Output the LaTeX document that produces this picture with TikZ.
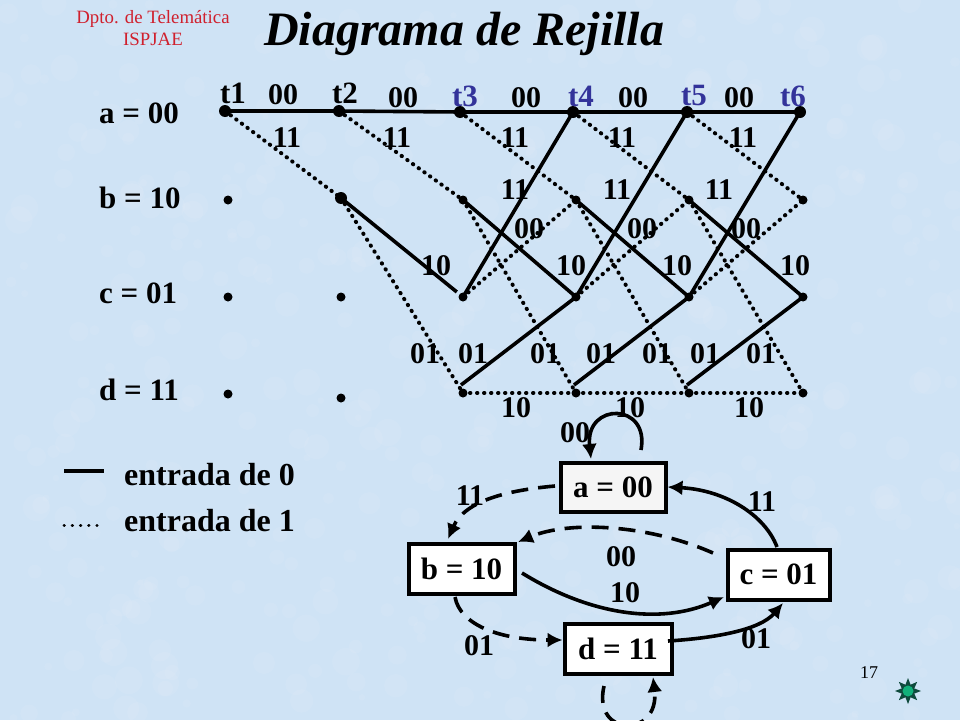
\documentclass[tikz,border=0pt]{standalone}
\usepackage{fontspec}
\setmainfont{Liberation Serif}
\usepackage{tikz}
\usetikzlibrary{arrows.meta, positioning, calc}
\definecolor{paper}{HTML}{CFE3F5}
\definecolor{tname}{HTML}{33339A}
\definecolor{dptored}{HTML}{D0202D}
\definecolor{sungreen}{HTML}{12B07A}
\definecolor{sundark}{HTML}{0E4A3C}

\begin{document}
\begin{tikzpicture}[x=1pt, y=-1pt,
    bigdot/.style={circle, fill=black, inner sep=0pt, minimum size=12pt},
    smalldot/.style={circle, fill=black, inner sep=0pt, minimum size=9pt},
    lbl/.style={font=\fontsize{30}{30}\selectfont\bfseries, inner sep=0pt, yshift=-1.5pt},
    tlbl/.style={font=\fontsize{31}{31}\selectfont\bfseries, inner sep=0pt},
    rowlbl/.style={font=\fontsize{31}{31}\selectfont\bfseries, inner sep=0pt, anchor=west},
    leglbl/.style={font=\fontsize{32}{32}\selectfont\bfseries, inner sep=0pt, anchor=west},
    solidedge/.style={line width=3.6pt},
    dotedge/.style={line width=4pt, line cap=round, dash pattern=on 0.4pt off 6.6pt},
    statebox/.style={draw=black, fill=white, line width=4pt, inner sep=0pt, font=\fontsize{31}{31}\selectfont\bfseries},
    solidarc/.style={line width=3.6pt, -{Latex[length=15pt, width=15pt]}},
    dasharc/.style={line width=3.6pt, dash pattern=on 17pt off 10pt, -{Latex[length=15pt, width=15pt]}}]
    \useasboundingbox (0,0) rectangle (960,720);
    \fill[paper] (0,0) rectangle (960,720);
    \pgfmathsetseed{17}
    \foreach \i in {1,...,500}
        \fill[white, opacity=0.07] (rnd*960,rnd*720) circle (3+rnd*11);

    % title and header
    \node[font=\fontsize{18.8}{22}\selectfont, text=dptored, align=center] (dpto) at (153,28) {Dpto. de Telemática\\ISPJAE};
    \node[font=\fontsize{48}{48}\selectfont\bfseries\itshape, inner sep=0pt] (title) at (464,34) {Diagrama de Rejilla};

    % trellis nodes
    \node[bigdot] (a1) at (225,111) {};
    \node[bigdot] (a2) at (339,111) {};
    \node[bigdot] (a3) at (460,112) {};
    \node[bigdot] (a4) at (573,112) {};
    \node[bigdot] (a5) at (687,112) {};
    \node[bigdot] (a6) at (800,112) {};
    \node[smalldot] (b1) at (228,200) {};
    \node[bigdot] (b2) at (341,198) {};
    \foreach \n/\x in {3/463,4/576,5/689,6/803}
        \node[smalldot] (b\n) at (\x,200) {};
    \foreach \n/\x in {1/228,2/341,3/463,4/576,5/689,6/803}
        \node[smalldot] (c\n) at (\x,297) {};
    \node[smalldot] (d1) at (228,394) {};
    \node[smalldot] (d2) at (341,398) {};
    \foreach \n/\x in {3/463,4/576,5/689,6/803}
        \node[smalldot] (d\n) at (\x,393) {};

    % trellis branches
    \foreach \s/\t in {a1/a2,a2/a3,a3/a4,a4/a5,a5/a6,b3/c4,b4/c5,b5/c6,c3/a4,c4/a5,c5/a6}
        \draw[solidedge] (\s.center) -- (\t.center);
    \draw[solidedge, shorten >=8pt] (b2.center) -- (c3.center);
    \foreach \s/\t in {d3/c4,d4/c5,d5/c6}
        \draw[solidedge] ($(\s.center)+(-2,-8)$) -- (\t.center);
    \foreach \s/\t in {a1/b2,a2/b3,a3/b4,a4/b5,a5/b6,b2/d3,b3/d4,b4/d5,b5/d6,c3/b4,c4/b5,c5/b6,d3/d4,d4/d5,d5/d6}
        \draw[dotedge] (\s.center) -- (\t.center);

    % trellis labels
    \foreach \n/\x/\y in {t1/233/93,t2/345/93}
        \node[tlbl] (\n) at (\x,\y) {\n};
    \foreach \n/\x/\y in {t3/465/96,t4/581/96,t5/694/96,t6/793/96}
        \node[tlbl, text=tname] (\n) at (\x,\y) {\n};
    \foreach \x/\y in {283/93,403/96,526/96,633/96,739/96,529/227,642/227,746/227}
        \node[lbl] (z\x) at (\x,\y) {00};
    \foreach \x/\y in {287/136,397/136,515/136,622/136,743/136,515/188,617/188,719/188}
        \node[lbl] (o\x\y) at (\x,\y) {11};
    \foreach \x/\y in {436/264,571/264,677/264,795/264,516/406,630/406,749/406}
        \node[lbl] (t\x) at (\x,\y) {10};
    \foreach \x in {425,473,545,601,657,705,761}
        \node[lbl] (u\x) at (\x,352) {01};

    \node[rowlbl] (rowa) at (99,113) {a = 00};
    \node[rowlbl] (rowb) at (99,198) {b = 10};
    \node[rowlbl] (rowc) at (99,293) {c = 01};
    \node[rowlbl] (rowd) at (99,390) {d = 11};

    % legend
    \coordinate (la) at (64,471);
    \coordinate (lb) at (104,471);
    \coordinate (lc) at (64,525);
    \coordinate (ld) at (98,525);
    \draw[line width=3.4pt] (la) -- (lb);
    \draw[line width=3pt, line cap=round, dash pattern=on 0.4pt off 7.8pt] (lc) -- (ld);
    \node[leglbl] (lega) at (124,475) {entrada de 0};
    \node[leglbl] (legb) at (124,521) {entrada de 1};

    % state diagram
    \node[statebox, fill=white!96!black, minimum width=105pt, minimum height=49pt] (sa) at (613,487) {a = 00};
    \node[statebox, minimum width=106pt, minimum height=50pt] (sb) at (461.5,568.5) {b = 10};
    \node[statebox, minimum width=102pt, minimum height=50pt] (sc) at (778.5,574.5) {c = 01};
    \node[statebox, minimum width=107pt, minimum height=50pt] (sd) at (618,648.5) {d = 11};

    \coordinate (aloopout) at (641,450);
    \coordinate (aloopin) at (591,459);
    \coordinate (abfrom) at (555,486);
    \coordinate (abto) at (448,539);
    \coordinate (cbfrom) at (713,553);
    \coordinate (cbto) at (518,542);
    \coordinate (cafrom) at (777,547);
    \coordinate (bcfrom) at (522,573);
    \coordinate (bcto) at (724,597);
    \coordinate (bdfrom) at (455,597);
    \coordinate (dcfrom) at (668,641);
    \coordinate (dcto) at (783,603);
    \coordinate (dloopout) at (604,686);
    \coordinate (dloopin) at (653,677);

    \draw[solidarc] (aloopout) .. controls (650,402) and (585,402) .. (aloopin);
    \draw[dasharc] (abfrom) .. controls (510,490) and (465,500) .. (abto);
    \draw[dasharc] (cbfrom) .. controls (650,525) and (570,520) .. (cbto);
    \draw[solidarc] (cafrom) .. controls (765,515) and (725,490) .. (sa.east);
    \draw[solidarc] (bcfrom) .. controls (590,615) and (660,625) .. (bcto);
    \draw[dasharc] (bdfrom) .. controls (460,625) and (500,640) .. (sd.west |- 0,640);
    \draw[solidarc] (dcfrom) .. controls (715,638) and (760,630) .. (dcto);
    \draw[dasharc] (dloopout) .. controls (592,738) and (660,738) .. (dloopin);

    \node[lbl] (s00a) at (575,431) {00};
    \node[lbl] (s11a) at (470,494) {11};
    \node[lbl] (s11b) at (762,500) {11};
    \node[lbl] (s00b) at (621,555) {00};
    \node[lbl] (s10) at (625,591) {10};
    \node[lbl] (s01a) at (479,644) {01};
    \node[lbl] (s01b) at (756,637) {01};

    % page number and sun
    \node[font=\fontsize{18}{18}\selectfont, inner sep=0pt] (page) at (869,673) {17};
    \foreach \a in {0,45,...,315}
        \fill[sundark] ($(908,691)+(\a:13)$) -- ($(908,691)+(\a+90:5)$) -- ($(908,691)+(\a-90:5)$) -- cycle;
    \node[circle, fill=sungreen, inner sep=0pt, minimum size=11pt] (sun) at (908,691) {};
\end{tikzpicture}
\end{document}
